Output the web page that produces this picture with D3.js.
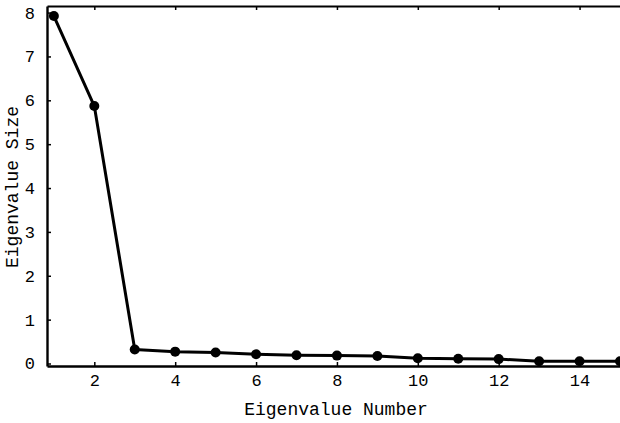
<!DOCTYPE html>
<html>
<head>
<meta charset="utf-8">
<script src="https://cdn.jsdelivr.net/npm/d3@7"></script>
<style>
  body { margin: 0; background: #fff; }
  text { font-family: "Liberation Mono", "DejaVu Sans Mono", monospace; fill: #000; }
</style>
</head>
<body>
<div id="chart"></div>
<script>
// scree plot values
var eigenNumbers = [1, 2, 3, 4, 5, 6, 7, 8, 9, 10, 11, 12, 13, 14, 15];
var eigenValues = [7.92, 5.87, 0.32, 0.27, 0.25, 0.21, 0.19, 0.18, 0.17, 0.12, 0.11, 0.10, 0.05, 0.05, 0.05];
var xTicks = [2, 4, 6, 8, 10, 12, 14];
var yTicks = [0, 1, 2, 3, 4, 5, 6, 7, 8];

var width = 620, height = 423;

var svg = d3.select("#chart").append("svg")
    .attr("width", width)
    .attr("height", height);

var x = d3.scaleLinear()
    .domain([0.83, 15])
    .range([47, 620]);

var y = d3.scaleLinear()
    .domain([-0.057, 8.15])
    .range([366, 6]);

// bottom axis, ticks point inward
var xAxis = svg.append("g")
    .attr("transform", "translate(0," + y(-0.057) + ")")
    .call(d3.axisBottom(x).tickValues(xTicks).tickSizeInner(-4).tickSizeOuter(0).tickPadding(7));

xAxis.select(".domain").attr("stroke-width", 2.4);
xAxis.selectAll(".tick line").attr("stroke-width", 1.5);
xAxis.selectAll(".tick text").attr("font-size", 17).attr("dy", "0.75em");

// top frame
var topAxis = svg.append("g")
    .attr("transform", "translate(0," + y(8.15) + ")")
    .call(d3.axisTop(x).tickValues(xTicks).tickSizeInner(-4).tickSizeOuter(0).tickFormat(""));

topAxis.select(".domain").attr("stroke-width", 2.2);
topAxis.selectAll(".tick line").attr("stroke-width", 1.5);

// left axis
var yAxis = svg.append("g")
    .attr("transform", "translate(" + x(0.83) + ",0)")
    .call(d3.axisLeft(y).tickValues(yTicks).tickSizeInner(-4).tickSizeOuter(0).tickPadding(12));

yAxis.select(".domain").attr("stroke-width", 2.4);
yAxis.selectAll(".tick line").attr("stroke-width", 1.5);
yAxis.selectAll(".tick text").attr("font-size", 17);

// series
var points = eigenNumbers.map(function(n, i) { return {n: n, v: eigenValues[i]}; });

var line = d3.line()
    .x(function(d) { return x(d.n); })
    .y(function(d) { return y(d.v); });

svg.append("path")
    .datum(points)
    .attr("fill", "none")
    .attr("stroke", "#000")
    .attr("stroke-width", 3)
    .attr("stroke-linejoin", "round")
    .attr("d", line);

svg.selectAll(".dot")
    .data(points)
    .enter().append("circle")
    .attr("class", "dot")
    .attr("cx", function(d) { return x(d.n); })
    .attr("cy", function(d) { return y(d.v); })
    .attr("r", 5)
    .attr("fill", "#000");

// axis titles
svg.append("text")
    .attr("x", 336)
    .attr("y", 415)
    .attr("text-anchor", "middle")
    .attr("font-size", 18)
    .text("Eigenvalue Number");

svg.append("text")
    .attr("transform", "translate(18,187) rotate(-90)")
    .attr("text-anchor", "middle")
    .attr("font-size", 18)
    .text("Eigenvalue Size");
</script>
</body>
</html>
